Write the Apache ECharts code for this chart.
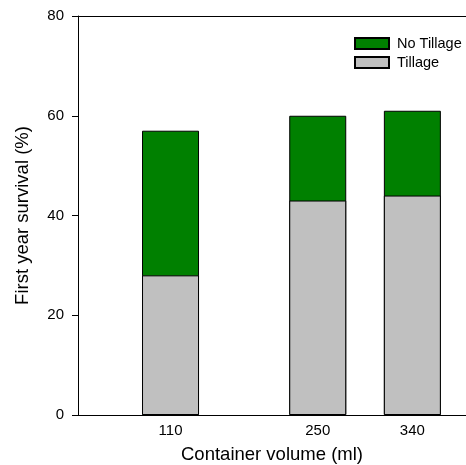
<!DOCTYPE html>
<html>
<head>
<meta charset="utf-8">
<script src="https://cdn.jsdelivr.net/npm/echarts@6/dist/echarts.min.js"></script>
<style>html,body{margin:0;padding:0;background:#fff}#c{width:466px;height:465px}</style>
</head>
<body>
<div id="c"></div>
<script>
var volumes = [110, 250, 340];
var tillage = [28, 43, 44];
var noTillage = [29, 17, 17];
var xTickLabels = [110, 250, 340];

var FONT = 'Liberation Sans, Arial, sans-serif';
var chart = echarts.init(document.getElementById('c'), null, {renderer: 'canvas'});
// No Tillage segment sits on top of Tillage: its top is the sum of both
var totals = volumes.map(function (v, i) { return [v, tillage[i] + noTillage[i]]; });
var tillPairs = volumes.map(function (v, i) { return [v, tillage[i]]; });

chart.setOption({
  animation: false,
  backgroundColor: '#fff',
  textStyle: {fontFamily: FONT},
  grid: {left: 78, right: 0, top: 16, bottom: 50, outerBoundsMode: 'none', containLabel: false},
  legend: {
    orient: 'vertical', left: 349, top: 31, itemWidth: 34, itemHeight: 11, itemGap: 4,
    icon: 'rect',
    data: ['No Tillage', 'Tillage'],
    textStyle: {fontFamily: FONT, fontSize: 14.5, color: '#000', lineHeight: 15, padding: [0, 0, 0, 3]}
  },
  xAxis: [{
    type: 'value', min: 22, max: 391, position: 'bottom',
    name: 'Container volume (ml)', nameLocation: 'middle', nameGap: 30,
    nameTextStyle: {fontFamily: FONT, fontSize: 18.5, color: '#000'},
    axisLine: {show: true, onZero: false, lineStyle: {color: '#000', width: 1}},
    axisTick: {show: false},
    splitLine: {show: false},
    axisLabel: {customValues: xTickLabels, fontFamily: FONT, fontSize: 15, color: '#000', margin: 8}
  }, {
    type: 'value', min: 22, max: 391, position: 'top',
    axisLine: {show: true, onZero: false, lineStyle: {color: '#000', width: 1}},
    axisTick: {show: false}, axisLabel: {show: false}, splitLine: {show: false}
  }],
  yAxis: {
    type: 'value', min: 0, max: 80, interval: 20,
    name: 'First year survival (%)', nameLocation: 'middle', nameGap: 46, nameRotate: 90,
    nameTextStyle: {fontFamily: FONT, fontSize: 18.5, color: '#000'},
    axisLine: {show: true, lineStyle: {color: '#000', width: 1}},
    axisTick: {show: true, inside: false, length: 6, lineStyle: {color: '#000'}},
    splitLine: {show: false},
    axisLabel: {fontFamily: FONT, fontSize: 15, color: '#000', margin: 14}
  },
  series: [{
    name: 'No Tillage', type: 'bar', barWidth: 57, barGap: '-100%', xAxisIndex: 0,
    itemStyle: {color: '#008000', borderColor: '#000', borderWidth: 1},
    data: totals
  }, {
    name: 'Tillage', type: 'bar', barWidth: 57, barGap: '-100%', xAxisIndex: 0,
    itemStyle: {color: '#c0c0c0', borderColor: '#000', borderWidth: 1},
    data: tillPairs
  }]
});
</script>
</body>
</html>
